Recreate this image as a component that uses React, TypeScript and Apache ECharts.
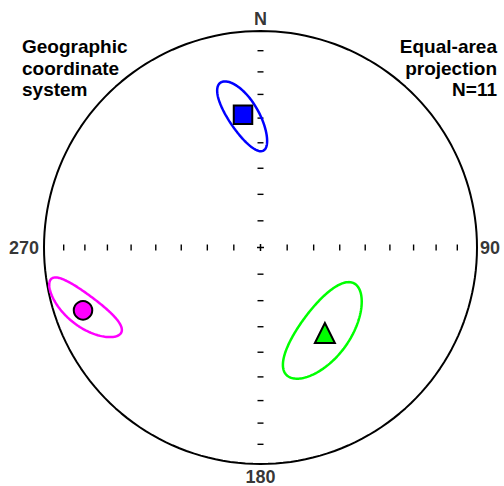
import { useEffect, useRef } from 'react';
import * as echarts from 'echarts';

// Site mean directions (lower hemisphere) and their confidence ellipses
const siteColors = ['#0000ff', '#ff00ff', '#00ff00'];
const siteSymbols = ['rect', 'circle', 'triangle'];
const meanDec = [352.5, 250.5, 143.0];
const meanInc = [38.1, 14.1, 49.1];
const ellipseMajor = [16.3, 16.2, 20.4]; // semi-angle, degrees
const ellipseMinor = [5.2, 6.0, 9.8]; // semi-angle, degrees
const ellipseOrient = [-19.4, 39.2, 69.9]; // major axis, deg from down-dip-outward toward +dec

// Net graduation (angle from centre, degrees)
const tickAngles = [10, 20, 30, 40, 50, 60, 70, 80];
const cardinalLabels = ['N', '90', '180', '270'];
const cardinalAzimuths = [0, 90, 180, 270];
const leftNote = ['Geographic', 'coordinate', 'system'];
const rightNote = ['Equal-area', 'projection', 'N=11'];

const RAD = Math.PI / 180;
const FONT = '"Liberation Sans", Arial, Helvetica, sans-serif';

type V3 = [number, number, number];

function dirVec(dec: number, inc: number): V3 {
  return [
    Math.cos(inc * RAD) * Math.cos(dec * RAD),
    Math.cos(inc * RAD) * Math.sin(dec * RAD),
    Math.sin(inc * RAD),
  ];
}

function project(v: V3): [number, number] {
  const l = Math.hypot(v[0], v[1], v[2]);
  const n = v[0] / l, e = v[1] / l, d = v[2] / l;
  const k = 1 / Math.sqrt(1 + d);
  return [e * k, n * k];
}

function radial(angle: number) {
  return Math.SQRT2 * Math.sin((angle * RAD) / 2);
}

function ellipsePoints(i: number): [number, number][] {
  const D = meanDec[i] * RAD, I = meanInc[i] * RAD;
  const m = dirVec(meanDec[i], meanInc[i]);
  const eOut: V3 = [Math.sin(I) * Math.cos(D), Math.sin(I) * Math.sin(D), -Math.cos(I)];
  const eDec: V3 = [-Math.sin(D), Math.cos(D), 0];
  const psi = ellipseOrient[i] * RAD;
  const u: V3 = [0, 1, 2].map((k) => Math.cos(psi) * eOut[k] + Math.sin(psi) * eDec[k]) as V3;
  const w: V3 = [0, 1, 2].map((k) => -Math.sin(psi) * eOut[k] + Math.cos(psi) * eDec[k]) as V3;
  const ta = Math.tan(ellipseMajor[i] * RAD), tb = Math.tan(ellipseMinor[i] * RAD);
  const pts: [number, number][] = [];
  for (let s = 0; s <= 360; s += 2) {
    const c = Math.cos(s * RAD), sn = Math.sin(s * RAD);
    const p: V3 = [0, 1, 2].map((k) => m[k] + ta * c * u[k] + tb * sn * w[k]) as V3;
    pts.push(project(p));
  }
  return pts;
}

function buildOption() {
  const circle: [number, number][] = [];
  for (let a = 0; a <= 360; a += 2) circle.push(project(dirVec(a, 0)));

  const hTicks = tickAngles.flatMap((t) => [[radial(t), 0], [-radial(t), 0]]);
  const vTicks = tickAngles.flatMap((t) => [[0, radial(t)], [0, -radial(t)]]);

  const labelPos = ['top', 'right', 'bottom', 'left'];
  const labelDist = [3, 3, 4, 5];
  const cardinalData = cardinalLabels.map((name, k) => ({
    name,
    value: project(dirVec(cardinalAzimuths[k], 0)),
    label: { position: labelPos[k], distance: labelDist[k] },
  }));

  const series: any[] = [
    {
      type: 'line',
      data: circle,
      symbol: 'none',
      silent: true,
      lineStyle: { color: '#000', width: 2 },
      z: 2,
    },
    {
      type: 'scatter',
      data: hTicks,
      symbol: 'rect',
      symbolSize: [1.4, 6],
      itemStyle: { color: '#000', opacity: 1 },
      silent: true,
      z: 2,
    },
    {
      type: 'scatter',
      data: vTicks,
      symbol: 'rect',
      symbolSize: [6, 1.4],
      itemStyle: { color: '#000', opacity: 1 },
      silent: true,
      z: 2,
    },
    {
      type: 'scatter',
      data: [
        { value: [0, 0], symbolSize: [7, 1.5] },
        { value: [0, 0], symbolSize: [1.5, 7] },
      ],
      symbol: 'rect',
      itemStyle: { color: '#000', opacity: 1 },
      silent: true,
      z: 2,
    },
    {
      type: 'scatter',
      data: cardinalData,
      symbolSize: 0,
      silent: true,
      label: {
        show: true,
        formatter: '{b}',
        color: '#000',
        fontFamily: FONT,
        fontWeight: 'bold',
        fontSize: 18,
      },
      z: 2,
    },
  ];

  meanDec.forEach((_, i) => {
    series.push({
      type: 'line',
      data: ellipsePoints(i),
      symbol: 'none',
      silent: true,
      lineStyle: { color: siteColors[i], width: 2.5 },
      z: 3,
    });
  });
  meanDec.forEach((_, i) => {
    series.push({
      type: 'scatter',
      data: [project(dirVec(meanDec[i], meanInc[i]))],
      symbol: siteSymbols[i],
      symbolSize: siteSymbols[i] === 'triangle' ? 20 : 18.5,
      itemStyle: { color: siteColors[i], borderColor: '#000', borderWidth: 2, opacity: 1 },
      silent: true,
      z: 4,
    });
  });

  return {
    animation: false,
    backgroundColor: '#fff',
    grid: { left: 44, top: 31, width: 433, height: 433 },
    xAxis: { type: 'value', min: -1, max: 1, show: false },
    yAxis: { type: 'value', min: -1, max: 1, show: false },
    graphic: [
      {
        type: 'text',
        x: 22,
        y: 36,
        style: {
          text: leftNote.join('\n'),
          font: `bold 19px ${FONT}`,
          fill: '#000',
          lineHeight: 21.5,
          align: 'left',
          verticalAlign: 'top',
        },
      },
      {
        type: 'text',
        x: 497,
        y: 36,
        style: {
          text: rightNote.join('\n'),
          font: `bold 19px ${FONT}`,
          fill: '#000',
          lineHeight: 21.5,
          align: 'right',
          verticalAlign: 'top',
        },
      },
    ],
    series,
  };
}

export default function App() {
  const ref = useRef<HTMLDivElement>(null);
  useEffect(() => {
    if (!ref.current) return;
    const chart = echarts.init(ref.current, undefined, { renderer: 'svg' });
    chart.setOption(buildOption() as any);
    return () => chart.dispose();
  }, []);
  return (
    <div
      ref={ref}
      style={{ position: 'fixed', left: 0, top: 0, width: 504, height: 486, background: '#fff' }}
    />
  );
}
